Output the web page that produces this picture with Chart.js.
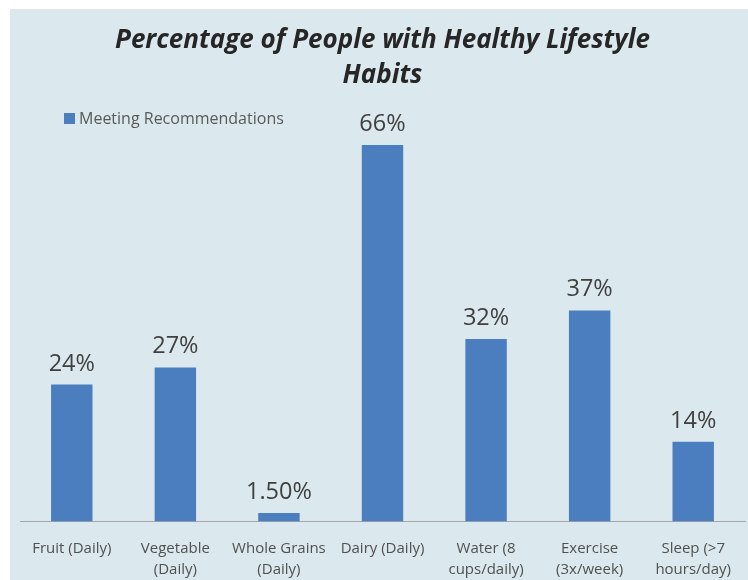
<!DOCTYPE html>
<html>
<head>
<meta charset="utf-8">
<script src="https://cdn.jsdelivr.net/npm/chart.js@4.4.1/dist/chart.umd.min.js"></script>
<style>
  html, body { margin: 0; padding: 0; background: #ffffff; }
  #panel { position: absolute; left: 10px; top: 9px; width: 738px; height: 571px; background: #dbe9ef; overflow: hidden; }
</style>
</head>
<body>
<div id="panel"><canvas id="grafHabitos" width="738" height="571"></canvas></div>
<script>
// datos
const categorias = [
  'Fruit (Daily)',
  ['Vegetable', '(Daily)'],
  ['Whole Grains', '(Daily)'],
  'Dairy (Daily)',
  ['Water (8', 'cups/daily)'],
  ['Exercise', '(3x/week)'],
  ['Sleep (>7', 'hours/day)']
];
const porcentajes = [24, 27, 1.5, 66, 32, 37, 14];
const etiquetasValor = ['24%', '27%', '1.50%', '66%', '32%', '37%', '14%'];
const nombreSerie = 'Meeting Recommendations';
const colorBarra = '#4a7ebf';

// etiquetas sobre las barras + leyenda arriba a la izquierda
const etiquetas = {
  id: 'etiquetas',
  afterDatasetsDraw(chart) {
    const ctx = chart.ctx;
    const meta = chart.getDatasetMeta(0);
    ctx.save();
    ctx.fillStyle = '#404040';
    ctx.font = '23.5px "Open Sans"';
    ctx.textAlign = 'center';
    ctx.textBaseline = 'alphabetic';
    meta.data.forEach((bar, i) => {
      ctx.fillText(etiquetasValor[i], bar.x, bar.y - 14);
    });

    ctx.fillStyle = colorBarra;
    ctx.fillRect(54, 104, 11, 11);
    ctx.fillStyle = '#595959';
    ctx.font = '16px "Open Sans"';
    ctx.textAlign = 'left';
    ctx.textBaseline = 'middle';
    ctx.fillText(chart.data.datasets[0].label, 69, 110);
    ctx.restore();
  }
};

new Chart(document.getElementById('grafHabitos'), {
  type: 'bar',
  data: {
    labels: categorias,
    datasets: [{
      label: nombreSerie,
      data: porcentajes,
      backgroundColor: colorBarra,
      barPercentage: 0.4,
      categoryPercentage: 1
    }]
  },
  options: {
    responsive: false,
    animation: false,
    layout: { padding: { left: 10, right: 3, top: 0, bottom: -17 } },
    plugins: {
      legend: { display: false },
      tooltip: { enabled: false },
      title: {
        display: true,
        text: ['Percentage of People with Healthy Lifestyle', 'Habits'],
        color: '#262626',
        font: { family: 'Open Sans', size: 26, weight: 'bold', style: 'italic', lineHeight: 1.35 },
        padding: { top: 14, bottom: 29 }
      }
    },
    scales: {
      x: {
        grid: { display: false, drawTicks: false, tickLength: 0 },
        border: { display: true, color: '#a6a6a6', width: 1 },
        ticks: {
          color: '#505050',
          padding: 16,
          maxRotation: 0,
          autoSkip: false,
          font: { family: 'Open Sans', size: 15, lineHeight: 1.45 }
        }
      },
      y: {
        display: false,
        min: 0,
        max: 70
      }
    }
  },
  plugins: [etiquetas]
});
</script>
</body>
</html>
